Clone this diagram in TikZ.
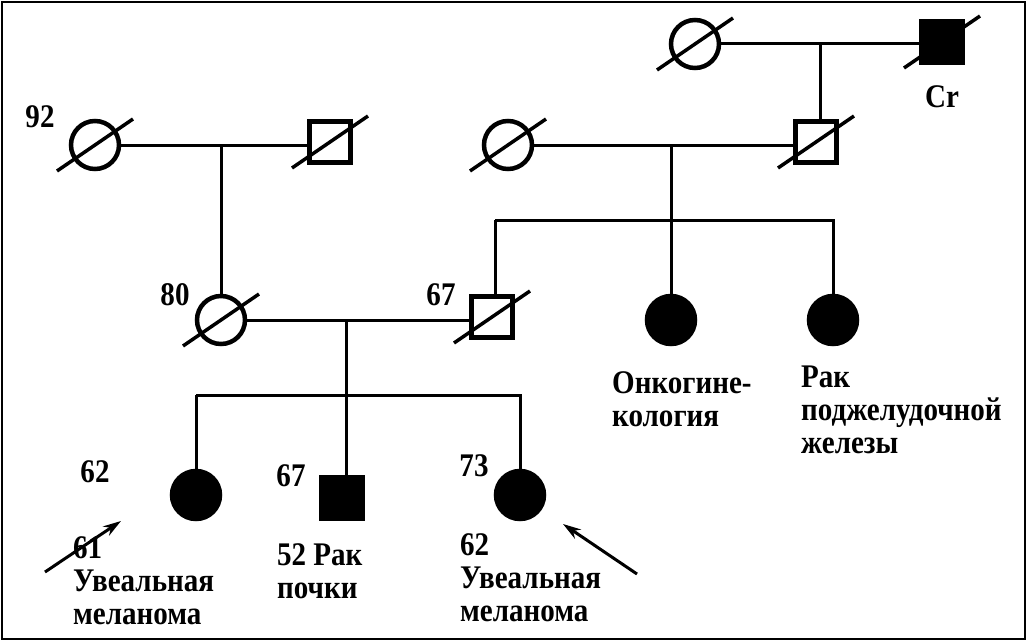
\documentclass[tikz,border=0pt]{standalone}
\usepackage{fontspec}
\setmainfont{Liberation Serif}[FakeStretch=0.88]
\usetikzlibrary{positioning,arrows.meta}

\begin{document}
\begin{tikzpicture}[x=1pt,y=-1pt,
female/.style={draw,circle,line width=4.5pt,minimum size=48pt,inner sep=0pt},
male/.style={draw,rectangle,line width=4.5pt,minimum size=41pt,inner sep=0pt},
affected/.style={fill=black},
line/.style={line width=3pt},
slash/.style={line width=3.5pt},
txt/.style={font=\bfseries\fontsize{33}{33}\selectfont,align=left,inner sep=0pt},
proband/.style={line width=3pt,-{Stealth[length=18pt,width=11pt]}}]
\useasboundingbox (0,0) rectangle (1028,642);
\draw[line width=2pt] (2,2) rectangle (1025,639);

% generation I and II
\node (ggm) [female] at (695,44) {};
\node (ggf) [male,affected] at (942,42) {};
\node (gmL) [female] at (95,145) {};
\node (gfL) [male] at (330,142) {};
\node (gmR) [female] at (508,145) {};
\node (gfR) [male] at (816,142) {};

% parents, aunts
\node (mother) [female] at (221,320) {};
\node (father) [male] at (492,317) {};
\node (aunt1) [female,affected] at (671,320) {};
\node (aunt2) [female,affected] at (833,320) {};

% siblings
\node (sis1) [female,affected] at (196,495) {};
\node (bro) [male,affected] at (342,498) {};
\node (sis2) [female,affected] at (520,495) {};

\foreach \n in {ggm,ggf,gmL,gfL,gmR,gfR,mother,father}
  \draw[slash] (\n.center) ++(-38,26) -- ++(76,-52);

% marriages and lines of descent
\coordinate (m0) at (820,44);
\coordinate (m1) at (221,145);
\coordinate (m2) at (671,145);
\coordinate (m3) at (346,320);
\coordinate (s2) at (671,220);
\coordinate (s3) at (346,395);
\draw[line] (ggm.east) -- (ggm.east -| ggf.west);
\draw[line] (m0) -- (m0 |- gfR.north);
\draw[line] (gmL.east) -- (gmL.east -| gfL.west);
\draw[line] (m1) -- (mother.north);
\draw[line] (gmR.east) -- (gmR.east -| gfR.west);
\draw[line] (m2) -- (s2);
\draw[line] (s2 -| 495,0) -- (s2 -| aunt2) -- (aunt2.north);
\draw[line] (s2 -| 495,0) -- (495,0 |- father.north);
\draw[line] (s2) -- (aunt1.north);
\draw[line] (mother.east) -- (mother.east -| father.west);
\draw[line] (m3) -- (s3);
\draw[line] (s3 -| sis1) -- (s3 -| sis2) -- (sis2.north);
\draw[line] (s3 -| sis1) -- (sis1.north);
\draw[line] (s3) -- (s3 |- bro.north);

% ages and notes
\node (age92) [txt] at (40,117) {92};
\node (cr) [txt,below=21pt of ggf] {Cr};
\node (age80) [txt] at (175,295) {80};
\node (age67f) [txt] at (441,295) {67};
\node (age62) [txt] at (95,472) {62};
\node (age67b) [txt] at (291,476) {67};
\node (age73) [txt] at (474,466) {73};
\node (note1) [txt,anchor=north west] at (612,371) {Онкогине-\\кология};
\node (note2) [txt,anchor=north west] at (801,366) {Рак\\поджелудочной\\железы};
\node (note3) [txt,anchor=north west] at (73,536) {61\\Увеальная\\меланома};
\node (note4) [txt,anchor=north west] at (277,543) {52 Рак\\почки};
\node (note5) [txt,anchor=north west] at (460,533) {62\\Увеальная\\меланома};

% probands
\coordinate (p1) at (45,572);
\coordinate (p2) at (637,574);
\draw[proband] (p1) -- (121,521);
\draw[proband] (p2) -- (563,524);
\end{tikzpicture}
\end{document}
